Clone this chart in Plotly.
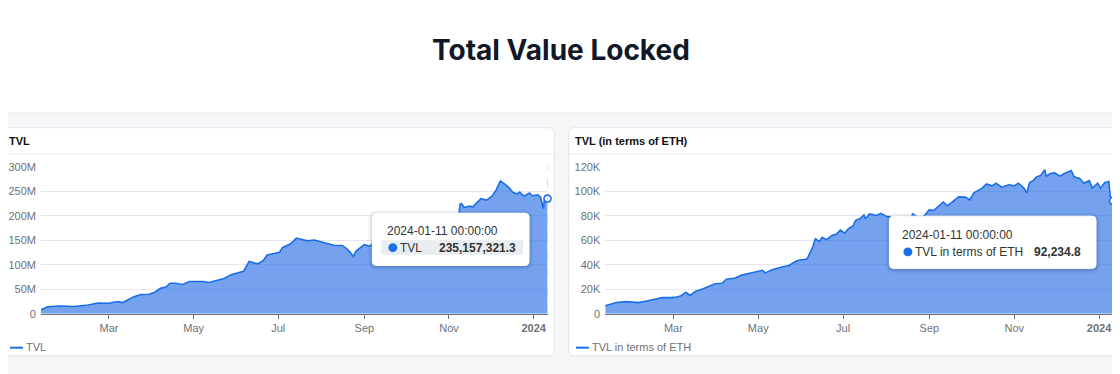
import plotly.graph_objects as go

# ---------------- data ----------------
tvl_dates = [
    "2023-01-11", "2023-01-16", "2023-01-24", "2023-01-28", "2023-02-04", "2023-02-14",
    "2023-02-21", "2023-03-01", "2023-03-07", "2023-03-11", "2023-03-15", "2023-03-19",
    "2023-03-24", "2023-03-30", "2023-04-03", "2023-04-07", "2023-04-11", "2023-04-14",
    "2023-04-18", "2023-04-23", "2023-04-28", "2023-05-04", "2023-05-08", "2023-05-12",
    "2023-05-18", "2023-05-23", "2023-05-28", "2023-06-02", "2023-06-06", "2023-06-10",
    "2023-06-13", "2023-06-16", "2023-06-20", "2023-06-23", "2023-06-28", "2023-07-02",
    "2023-07-04", "2023-07-08", "2023-07-10", "2023-07-14", "2023-07-17", "2023-07-22",
    "2023-07-27", "2023-08-01", "2023-08-05", "2023-08-10", "2023-08-16", "2023-08-19",
    "2023-08-22", "2023-08-24", "2023-08-26", "2023-08-30", "2023-09-01", "2023-09-05",
    "2023-09-07", "2023-09-12", "2023-09-18", "2023-09-25", "2023-10-02", "2023-10-09",
    "2023-10-16", "2023-10-22", "2023-10-24", "2023-10-31", "2023-11-08", "2023-11-09",
    "2023-11-10", "2023-11-12", "2023-11-16", "2023-11-18", "2023-11-22", "2023-11-24",
    "2023-11-28", "2023-12-02", "2023-12-05", "2023-12-08", "2023-12-11", "2023-12-14",
    "2023-12-17", "2023-12-20", "2023-12-22", "2023-12-25", "2023-12-29", "2023-12-31",
    "2024-01-04", "2024-01-06", "2024-01-08", "2024-01-09", "2024-01-11",
]
tvl_usd = [
    8.5e6, 14.5e6, 16.0e6, 16.0e6, 15.0e6, 18.0e6,
    22.0e6, 21.5e6, 25.0e6, 23.0e6, 29.6e6, 35.0e6,
    39.5e6, 40.0e6, 44.0e6, 52.0e6, 54.6e6, 62.5e6,
    62.5e6, 60.0e6, 66.0e6, 66.0e6, 66.0e6, 64.0e6,
    69.0e6, 72.0e6, 80.0e6, 83.5e6, 87.0e6, 107.0e6,
    104.6e6, 102.0e6, 108.6e6, 120.0e6, 123.0e6, 125.7e6,
    135.0e6, 140.0e6, 143.0e6, 154.6e6, 153.0e6, 149.0e6,
    150.6e6, 146.7e6, 144.7e6, 140.0e6, 139.5e6, 133.5e6,
    125.0e6, 117.0e6, 128.0e6, 138.0e6, 141.4e6, 138.0e6,
    143.0e6, 144.0e6, 146.0e6, 152.0e6, 160.0e6, 158.0e6,
    157.0e6, 168.0e6, 185.0e6, 190.0e6, 198.0e6, 223.7e6,
    225.0e6, 217.0e6, 220.0e6, 218.0e6, 230.0e6, 235.0e6,
    232.0e6, 240.0e6, 253.0e6, 271.0e6, 265.0e6, 258.0e6,
    248.0e6, 244.7e6, 248.7e6, 240.0e6, 246.7e6, 241.0e6,
    243.0e6, 238.0e6, 215.0e6, 239.0e6, 235157321.3,
]

eth_dates = [
    "2023-01-11", "2023-01-15", "2023-01-19", "2023-01-26", "2023-01-31", "2023-02-04",
    "2023-02-09", "2023-02-14", "2023-02-21", "2023-02-26", "2023-03-02", "2023-03-06",
    "2023-03-10", "2023-03-13", "2023-03-17", "2023-03-22", "2023-03-26", "2023-03-31",
    "2023-04-05", "2023-04-08", "2023-04-14", "2023-04-19", "2023-04-24", "2023-04-29",
    "2023-05-04", "2023-05-06", "2023-05-11", "2023-05-18", "2023-05-23", "2023-05-28",
    "2023-05-31", "2023-06-05", "2023-06-06", "2023-06-09", "2023-06-11", "2023-06-14",
    "2023-06-16", "2023-06-19", "2023-06-23", "2023-06-26", "2023-06-29", "2023-07-02",
    "2023-07-05", "2023-07-08", "2023-07-10", "2023-07-13", "2023-07-16", "2023-07-17",
    "2023-07-20", "2023-07-25", "2023-07-28", "2023-08-01", "2023-08-07", "2023-08-13",
    "2023-08-19", "2023-08-20", "2023-08-24", "2023-08-27", "2023-08-29", "2023-09-01",
    "2023-09-04", "2023-09-08", "2023-09-11", "2023-09-14", "2023-09-17", "2023-09-20",
    "2023-09-22", "2023-09-27", "2023-09-30", "2023-10-03", "2023-10-05", "2023-10-09",
    "2023-10-12", "2023-10-16", "2023-10-19", "2023-10-23", "2023-10-28", "2023-11-01",
    "2023-11-04", "2023-11-08", "2023-11-10", "2023-11-12", "2023-11-15", "2023-11-17",
    "2023-11-20", "2023-11-23", "2023-11-24", "2023-11-27", "2023-11-30", "2023-12-04",
    "2023-12-07", "2023-12-12", "2023-12-14", "2023-12-18", "2023-12-21", "2023-12-25",
    "2023-12-27", "2023-12-31", "2024-01-02", "2024-01-05", "2024-01-08", "2024-01-09",
    "2024-01-11",
]
eth_tvl = [
    6600, 7900, 9200, 10000, 9700, 9200,
    10300, 11300, 13200, 13200, 13400, 14500,
    17600, 15000, 18400, 20300, 22400, 24500,
    25000, 28200, 29000, 31600, 32900, 34200,
    35500, 33400, 36000, 38200, 39500, 42900,
    44000, 44700, 47400, 54000, 61300, 59200,
    62400, 60500, 64000, 65000, 68400, 65800,
    69700, 71600, 76300, 77600, 80800, 77600,
    81600, 80300, 82000, 79700, 78500, 78000,
    79000, 81600, 78500, 79000, 80800, 85000,
    84200, 88200, 91300, 88200, 90800, 93400,
    95500, 95300, 92900, 98700, 100000, 102600,
    106000, 104500, 106600, 103400, 105300, 104500,
    106600, 102600, 98700, 107000, 109200, 111800,
    113000, 117600, 112400, 114500, 115000, 112400,
    114500, 117000, 111800, 110500, 106600, 108700,
    102600, 106600, 102600, 107000, 107900, 96000,
    92234.8,
]

x_tickvals = ["2023-03-01", "2023-05-01", "2023-07-01", "2023-09-01", "2023-11-01", "2024-01-01"]
x_ticktext = ["Mar", "May", "Jul", "Sep", "Nov", "<b>2024</b>"]
usd_tickvals = [0, 50e6, 100e6, 150e6, 200e6, 250e6, 300e6]
usd_ticktext = ["0", "50M", "100M", "150M", "200M", "250M", "300M"]
eth_tickvals = [0, 20000, 40000, 60000, 80000, 100000, 120000]
eth_ticktext = ["0", "20K", "40K", "60K", "80K", "100K", "120K"]

# ---------------- styling ----------------
# the page body has an 8px default margin: the figure sits at (8, 8)
OX, OY = 8, 8
W, H = 1112, 366
LINE = "#1a6fe8"
FILL = "rgba(37,110,230,0.64)"
PAGE_BG = "#f5f6f8"
BORDER = "#e4e7ec"
GRID = "#e3e7f1"
LABEL = "#6e7079"
FONT = "Liberation Sans, Arial, sans-serif"


def px(x):
    return (x - OX) / W


def py(y):
    return 1 - (y - OY) / H


def P(x, y):
    return f"{px(x):.5f},{py(y):.5f}"


def rrect(x0, y0, x1, y1, r):
    return (f"M{P(x0 + r, y0)} L{P(x1 - r, y0)} Q{P(x1, y0)} {P(x1, y0 + r)} "
            f"L{P(x1, y1 - r)} Q{P(x1, y1)} {P(x1 - r, y1)} L{P(x0 + r, y1)} "
            f"Q{P(x0, y1)} {P(x0, y1 - r)} L{P(x0, y0 + r)} Q{P(x0, y0)} {P(x0 + r, y0)} Z")


fig = go.Figure()

fig.add_trace(go.Scatter(x=tvl_dates, y=tvl_usd, mode="lines", line=dict(color=LINE, width=1.6),
                         fill="tozeroy", fillcolor=FILL, xaxis="x", yaxis="y", hoverinfo="skip",
                         showlegend=False, name="TVL"))
fig.add_trace(go.Scatter(x=[tvl_dates[-1]], y=[tvl_usd[-1]], mode="markers",
                         marker=dict(size=7, color="white", line=dict(color=LINE, width=1.6)),
                         xaxis="x", yaxis="y", cliponaxis=False, showlegend=False, hoverinfo="skip"))
fig.add_trace(go.Scatter(x=eth_dates, y=eth_tvl, mode="lines", line=dict(color=LINE, width=1.6),
                         fill="tozeroy", fillcolor=FILL, xaxis="x2", yaxis="y2", hoverinfo="skip",
                         showlegend=False, name="TVL in terms of ETH"))
fig.add_trace(go.Scatter(x=[eth_dates[-1]], y=[eth_tvl[-1]], mode="markers",
                         marker=dict(size=7, color="white", line=dict(color=LINE, width=1.6)),
                         xaxis="x2", yaxis="y2", cliponaxis=False, showlegend=False, hoverinfo="skip"))

ydom = [py(318), py(166)]
common_x = dict(type="date", tickvals=x_tickvals, ticktext=x_ticktext, showgrid=False,
                showline=True, linecolor=LABEL, linewidth=1, ticks="outside", ticklen=4,
                tickcolor=LABEL, tickfont=dict(size=11, color=LABEL, family=FONT),
                zeroline=False, fixedrange=True)
common_y = dict(showgrid=True, gridcolor=GRID, gridwidth=1, zeroline=False, showline=False,
                ticks="", tickfont=dict(size=11, color=LABEL, family=FONT), fixedrange=True,
                ticklabelstandoff=4)

fig.update_layout(
    width=W, height=H,
    margin=dict(l=0, r=0, t=0, b=0),
    paper_bgcolor=PAGE_BG,
    plot_bgcolor="rgba(0,0,0,0)",
    showlegend=False,
    xaxis=dict(domain=[px(39), px(546.5)], range=[tvl_dates[0], tvl_dates[-1]], anchor="y", **common_x),
    yaxis=dict(domain=ydom, range=[0, 300e6], tickvals=usd_tickvals, ticktext=usd_ticktext,
               anchor="x", **common_y),
    xaxis2=dict(domain=[px(604.3), min(1.0, px(1113))], range=[eth_dates[0], eth_dates[-1]],
                anchor="y2", **common_x),
    yaxis2=dict(domain=ydom, range=[0, 120000], tickvals=eth_tickvals, ticktext=eth_ticktext,
                anchor="x2", **common_y),
)

shapes = []
for (x0, y0, x1, y1) in [(0.5, -8, 1119.5, 110.5), (1.5, 125.5, 553.5, 361.5), (567.5, 125.5, 1135, 361.5)]:
    shapes.append(dict(type="path", path=rrect(x0, y0, x1, y1, 6), xref="paper", yref="paper",
                       fillcolor="white", line=dict(color=BORDER, width=1), layer="below"))
shapes.append(dict(type="line", xref="paper", yref="paper", x0=px(2), x1=px(553), y0=py(152.5), y1=py(152.5),
                   line=dict(color="#eceef2", width=1), layer="below"))
shapes.append(dict(type="line", xref="paper", yref="paper", x0=px(568), x1=px(1125), y0=py(152.5), y1=py(152.5),
                   line=dict(color="#eceef2", width=1), layer="below"))
shapes.append(dict(type="line", xref="x", yref="paper", x0=tvl_dates[-1], x1=tvl_dates[-1],
                   y0=ydom[0], y1=ydom[1], line=dict(color="#b9bec9", width=1, dash="dash"), layer="above"))
shapes.append(dict(type="line", xref="x2", yref="paper", x0=eth_dates[-1], x1=eth_dates[-1],
                   y0=ydom[0], y1=ydom[1], line=dict(color="#b9bec9", width=1, dash="dash"), layer="above"))
for (x0, y0, x1, y1) in [(371, 214, 528, 268), (889, 217, 1096, 271)]:
    for g, a in [(4, 0.04), (2.5, 0.06), (1.2, 0.08)]:
        shapes.append(dict(type="path", path=rrect(x0 - g, y0 - g + 1, x1 + g, y1 + g + 1, 5 + g),
                           xref="paper", yref="paper", fillcolor=f"rgba(0,0,0,{a})",
                           line=dict(width=0), layer="above"))
    shapes.append(dict(type="path", path=rrect(x0, y0, x1, y1, 4), xref="paper", yref="paper",
                       fillcolor="white", line=dict(color="#ffffff", width=1), layer="above"))
shapes.append(dict(type="rect", xref="paper", yref="paper", x0=px(380), x1=px(522), y0=py(257), y1=py(242),
                   fillcolor="#e9ecf1", line=dict(width=0), layer="above"))
shapes.append(dict(type="circle", xref="paper", yref="paper", x0=px(387), x1=px(396), y0=py(254), y1=py(245),
                   fillcolor=LINE, line=dict(width=0), layer="above"))
shapes.append(dict(type="circle", xref="paper", yref="paper", x0=px(903), x1=px(912), y0=py(258.5), y1=py(249.5),
                   fillcolor=LINE, line=dict(width=0), layer="above"))
shapes.append(dict(type="line", xref="paper", yref="paper", x0=px(8), x1=px(21), y0=py(353), y1=py(353),
                   line=dict(color=LINE, width=2), layer="above"))
shapes.append(dict(type="line", xref="paper", yref="paper", x0=px(575), x1=px(588), y0=py(353), y1=py(353),
                   line=dict(color=LINE, width=2), layer="above"))
fig.update_layout(shapes=shapes)

ann = []


def text(x, y, s, size, color, xanchor="left", bold=False, family=FONT):
    ann.append(dict(x=px(x), y=py(y), xref="paper", yref="paper", text=(f"<b>{s}</b>" if bold else s),
                    showarrow=False, xanchor=xanchor, yanchor="middle",
                    font=dict(size=size, color=color, family=family)))


text(560, 45, "Total Value Locked", 28, "#111827", xanchor="center", bold=True, family="Inter, sans-serif")
text(5, 139, "TVL", 11, "#111111", bold=True)
text(572, 139, "TVL (in terms of ETH)", 11, "#111111", bold=True)
text(384, 232, "2024-01-11 00:00:00", 12, "#333333")
text(397, 250, "TVL", 12, "#333333")
text(517, 250, "235,157,321.3", 12, "#333333", xanchor="right", bold=True)
text(900, 236, "2024-01-11 00:00:00", 12, "#333333")
text(913, 254, "TVL in terms of ETH", 12, "#333333")
text(1083, 254, "92,234.8", 12, "#333333", xanchor="right", bold=True)
text(22, 352, "TVL", 11, LABEL)
text(589, 352, "TVL in terms of ETH", 11, LABEL)
fig.update_layout(annotations=ann)

fig.write_html("out.html")
